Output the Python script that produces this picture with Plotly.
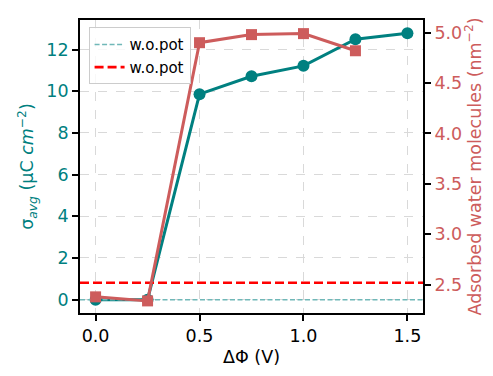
import plotly.graph_objects as go

# Applied potential difference (V)
delta_phi = [0.0, 0.25, 0.5, 0.75, 1.0, 1.25, 1.5]
# Average surface charge density (uC cm^-2)
sigma_avg = [0.0, 0.0, 9.86, 10.72, 11.22, 12.5, 12.78]
# Adsorbed water molecules (nm^-2)
water_ads = [2.38, 2.34, 4.90, 4.98, 4.99, 4.82]
water_x = [0.0, 0.25, 0.5, 0.75, 1.0, 1.25]
# Reference levels without applied potential
sigma_no_pot = 0.0
water_no_pot = 2.52

x_range = [-0.075, 1.575]
y1_range = [-0.64, 13.42]
y2_range = [2.22, 5.125]

TEAL = "#008080"
INDIANRED = "#CD5C5C"
FONT = "DejaVu Sans"
FS = 17.5

fig = go.Figure()

fig.add_trace(go.Scatter(
    x=delta_phi, y=sigma_avg, mode="lines+markers",
    line=dict(color=TEAL, width=3),
    marker=dict(symbol="circle", size=12, color=TEAL),
    showlegend=False, yaxis="y",
))
fig.add_trace(go.Scatter(
    x=x_range, y=[sigma_no_pot, sigma_no_pot], mode="lines",
    line=dict(color="#70b8b8", width=1.5, dash="5px,2.5px"),
    name="w.o.pot", showlegend=True, yaxis="y", legendrank=1,
))
fig.add_trace(go.Scatter(
    x=x_range, y=[water_no_pot, water_no_pot], mode="lines",
    line=dict(color="#ff0000", width=2.6, dash="9px,4px"),
    name="w.o.pot", showlegend=True, yaxis="y2", legendrank=2,
))
fig.add_trace(go.Scatter(
    x=water_x, y=water_ads, mode="lines+markers",
    line=dict(color=INDIANRED, width=3),
    marker=dict(symbol="square", size=11, color=INDIANRED),
    showlegend=False, yaxis="y2",
))

grid = dict(showgrid=True, gridcolor="#d9d9d9", gridwidth=1, griddash="dash")

fig.update_layout(
    width=493, height=376,
    margin=dict(l=80, r=70, t=20, b=58),
    paper_bgcolor="white", plot_bgcolor="white",
    font=dict(family=FONT, size=FS, color="black"),
    xaxis=dict(
        range=x_range, tickvals=[0.0, 0.5, 1.0, 1.5], ticktext=["0.0", "0.5", "1.0", "1.5"],
        ticks="outside", ticklen=6, tickwidth=1.5, tickcolor="black",
        tickfont=dict(size=FS),
        showline=True, linecolor="black", linewidth=1.8, mirror=True,
        zeroline=False,
        title=dict(text="ΔΦ (V)", standoff=6, font=dict(size=FS)),
        **grid,
    ),
    yaxis=dict(
        range=y1_range, tickvals=[0, 2, 4, 6, 8, 10, 12],
        ticks="outside", ticklen=6, tickwidth=1.5, tickcolor="black",
        tickfont=dict(color=TEAL, size=FS),
        showline=True, linecolor="black", linewidth=1.8,
        zeroline=False,
        title=dict(text="σ<sub><i>avg</i></sub> (μC <i>cm</i><sup>−2</sup>)",
                   font=dict(color=TEAL, size=FS), standoff=8),
        **grid,
    ),
    yaxis2=dict(
        range=y2_range, overlaying="y", side="right",
        tickvals=[2.5, 3.0, 3.5, 4.0, 4.5, 5.0],
        ticktext=["2.5", "3.0", "3.5", "4.0", "4.5", "5.0"],
        ticks="outside", ticklen=6, tickwidth=1.5, tickcolor="black",
        tickfont=dict(color=INDIANRED, size=FS),
        showline=True, linecolor="black", linewidth=1.8,
        showgrid=False, zeroline=False,
        title=dict(text="Adsorbed water molecules (nm<sup>−2</sup>)",
                   font=dict(color=INDIANRED, size=FS), standoff=6),
    ),
    legend=dict(
        x=0.025, y=0.975, xanchor="left", yanchor="top",
        bgcolor="rgba(255,255,255,0.8)", bordercolor="#cccccc", borderwidth=1,
        font=dict(size=15, color="black"), tracegroupgap=0,
    ),
)

fig.write_html("out.html")
